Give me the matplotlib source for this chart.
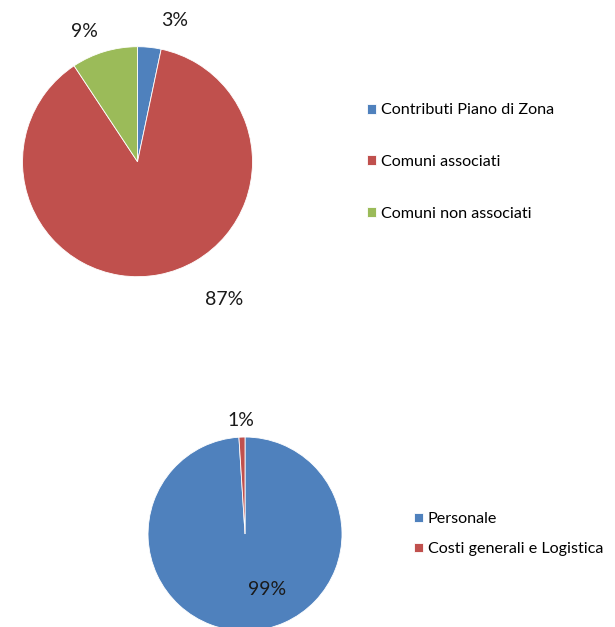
import matplotlib.pyplot as plt

plt.rcParams['font.family'] = ['Lato', 'DejaVu Sans']

# dati grafico entrate
entrate_labels = ['Contributi Piano di Zona', 'Comuni associati', 'Comuni non associati']
entrate_values = [3.3, 87.4, 9.3]
entrate_colors = ['#4F81BD', '#C0504D', '#9BBB59']

# dati grafico uscite
uscite_labels = ['Personale', 'Costi generali e Logistica']
uscite_values = [99, 1]
uscite_colors = ['#4F81BD', '#C0504D']

# posizione delle etichette percentuali (unita raggio)
entrate_pos = [(0.326, 1.232), (0.752, -1.202), (-0.465, 1.132)]
uscite_pos = [(0.227, -0.572), (-0.041, 1.175)]

fig = plt.figure(figsize=(6.15, 6.27), dpi=100)


def torta(rect, values, colors, labels, pos, leg_xy, spacing):
    ax = fig.add_axes(rect)
    wedges, _ = ax.pie(values, colors=colors, startangle=90, counterclock=False,
                       wedgeprops=dict(edgecolor='white', linewidth=0.6))
    ax.set_xlim(-1, 1)
    ax.set_ylim(-1, 1)
    ax.set_aspect('equal')
    ax.axis('off')
    for v, (x, y) in zip(values, pos):
        ax.text(x, y, '%d%%' % round(v), ha='center', va='center', fontsize=14, color='#1a1a1a')
    fig.legend(wedges, labels, loc='center left', bbox_to_anchor=leg_xy,
               bbox_transform=fig.transFigure, frameon=False, fontsize=11.6,
               handlelength=0.56, handleheight=0.56, handletextpad=0.3,
               labelspacing=spacing, borderpad=0, borderaxespad=0)
    return ax


torta([0.0366, 0.5587, 0.374, 0.3668], entrate_values, entrate_colors,
      entrate_labels, entrate_pos, (367 / 615, 0.7416), 2.33)
torta([0.2407, -0.0064, 0.3154, 0.3094], uscite_values, uscite_colors,
      uscite_labels, uscite_pos, (414 / 615, 0.148), 1.0)

fig.savefig('out.png', dpi=100, facecolor='white')
